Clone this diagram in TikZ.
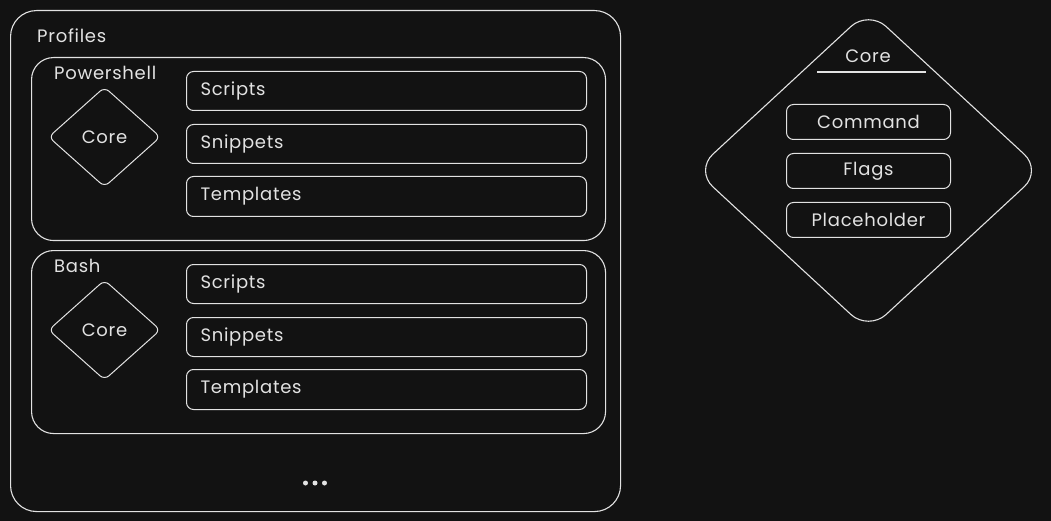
\documentclass[tikz,border=0pt]{standalone}
\usepackage{fontspec}
\setmainfont[LetterSpace=4]{Poppins}
\usetikzlibrary{shapes.geometric}
\definecolor{bg}{HTML}{121212}
\definecolor{ink}{HTML}{E2E2E2}
\begin{document}
\begin{tikzpicture}[x=1pt,y=-1pt,
  every node/.style={text=ink, font=\fontsize{18}{21}\selectfont},
  frame/.style={draw=ink, line width=1.1pt, rectangle, anchor=north west, inner sep=0pt},
  item/.style={draw=ink, line width=1pt, rounded corners=7pt, rectangle,
    minimum width=400pt, text width=372pt, inner xsep=14pt, inner ysep=0pt,
    align=left, anchor=north west},
  citem/.style={draw=ink, line width=1pt, rounded corners=7pt, rectangle,
    minimum width=164pt, minimum height=35pt, inner sep=0pt, anchor=north west},
  coredia/.style={draw=ink, line width=1pt, diamond, inner sep=0pt,
    minimum width=112pt, minimum height=100pt, rounded corners=6pt},
  dotmark/.style={circle, fill=ink, minimum size=5pt, inner sep=0pt},
  lbl/.style={anchor=west, inner sep=0pt}]
\useasboundingbox[fill=bg] (0,0) rectangle (1051,521);
% outer frame
\node[frame, rounded corners=26pt, minimum width=610pt, minimum height=501pt] (profiles) at (10,10) {};
\node[lbl] (profilesT) at (37,36) {Profiles};
% Powershell
\node[frame, rounded corners=22pt, minimum width=574pt, minimum height=183pt] (ps) at (31,57) {};
\node[lbl] (psT) at (54,73) {Powershell};
\node[coredia] (pscore) at (104.5,137) {Core};
\node[item, minimum height=39pt] (psscripts) at (186,71) {Scripts};
\node[item, minimum height=39pt] (pssnippets) at (186,124) {Snippets};
\node[item, minimum height=40pt] (pstemplates) at (186,176) {Templates};
% Bash
\node[frame, rounded corners=22pt, minimum width=574pt, minimum height=183pt] (bash) at (31,250) {};
\node[lbl] (bashT) at (54,266) {Bash};
\node[coredia] (bashcore) at (104.5,330) {Core};
\node[item, minimum height=39pt] (bashscripts) at (186,264) {Scripts};
\node[item, minimum height=39pt] (bashsnippets) at (186,317) {Snippets};
\node[item, minimum height=40pt] (bashtemplates) at (186,369) {Templates};
% dots
\node[dotmark] (dot1) at (305.5,483) {};
\node[dotmark] (dot2) at (315,483) {};
\node[dotmark] (dot3) at (324.5,483) {};
% right core diamond
\node[draw=ink, line width=1.1pt, diamond, inner sep=0pt, minimum width=347pt,
  minimum height=321pt, rounded corners=24pt] (core) at (868.5,170.5) {};
\node[inner sep=0pt] (coreT) at (868,56) {Core};
\coordinate (ul1) at (817,72);
\coordinate (ul2) at (926,72);
\draw[ink, line width=1.3pt] (ul1) -- (ul2);
\node[citem] (command) at (786,104) {};
\node (commandT) at (command.center) {Command};
\node[citem] (flags) at (786,153) {};
\node (flagsT) at (flags.center) {Flags};
\node[citem] (placeholder) at (786,202) {};
\node (placeholderT) at (placeholder.center) {Placeholder};
\end{tikzpicture}
\end{document}
